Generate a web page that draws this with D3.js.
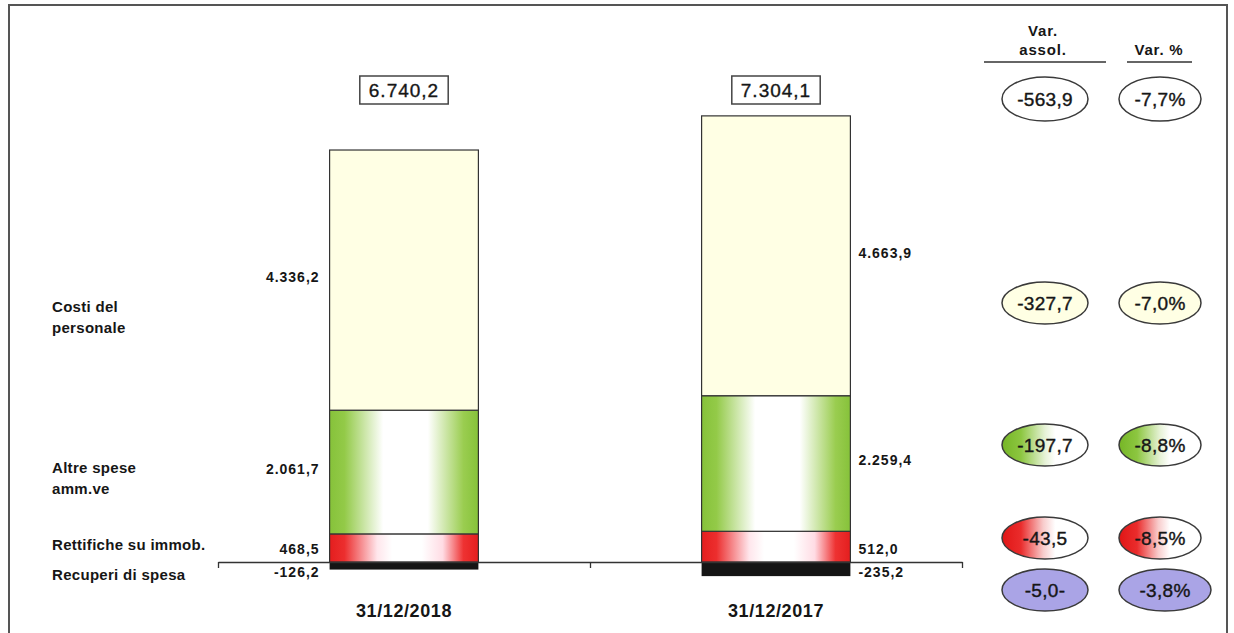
<!DOCTYPE html>
<html>
<head>
<meta charset="utf-8">
<script src="https://cdn.jsdelivr.net/npm/d3@7"></script>
<style>
body { margin: 0; background: #fff; }
svg text { font-family: "Liberation Sans", Arial, sans-serif; fill: #161616; }
</style>
</head>
<body>
<svg></svg>
<script>
// data
let years = ['31/12/2018', '31/12/2017']
let totals = [6740.2, 7304.1]
let costiPersonale = [4336.2, 4663.9]
let altreSpese = [2061.7, 2259.4]
let rettifiche = [468.5, 512.0]
let recuperi = [-126.2, -235.2]
let categoryLines = [['Costi del', 'personale'], ['Altre spese', 'amm.ve'], ['Rettifiche su immob.'], ['Recuperi di spesa']]
let varAssol = [-563.9, -327.7, -197.7, -43.5, -5.0]
let varAssolSuffix = ['', '', '', '', '-']
let varPerc = [-7.7, -7.0, -8.8, -8.5, -3.8]

let width = 1234
let height = 633
let zeroY = 562

let svg = d3.select('svg')
let xScale, yScale, axisScale

let itLocale = d3.formatLocale({decimal: ',', thousands: '.', grouping: [3], currency: ['€', ''], minus: '-'})
let fmt = itLocale.format(',.1f')

let drawCanvas = () => {
    svg.attr('width', width)
    svg.attr('height', height)

    // outer frame
    svg.append('rect')
        .attr('x', 9).attr('y', 5)
        .attr('width', 1218).attr('height', 660)
        .attr('fill', 'none')
        .attr('stroke', '#555')
        .attr('stroke-width', 2)

    let defs = svg.append('defs')
    let addGradient = (id, stops) => {
        let g = defs.append('linearGradient').attr('id', id)
            .attr('x1', '0%').attr('x2', '100%').attr('y1', '0%').attr('y2', '0%')
        stops.forEach(s => g.append('stop').attr('offset', s[0]).attr('stop-color', s[1]))
    }
    addGradient('gGreen', [[0, '#86c23a'], [0.1, '#93ca48'], [0.36, '#ffffff'], [0.66, '#ffffff'], [0.9, '#9acd50'], [1, '#86c23a']])
    addGradient('gRed', [[0, '#e41e1e'], [0.1, '#ec2e2e'], [0.32, '#ffe6ec'], [0.42, '#ffffff'], [0.62, '#ffffff'], [0.76, '#ffdce4'], [0.9, '#ee3232'], [1, '#e41e1e']])
    addGradient('eGreen', [[0, '#76b626'], [0.22, '#8cc640'], [0.5, '#e6f2d6'], [0.62, '#ffffff'], [1, '#ffffff']])
    addGradient('eRed', [[0, '#e01616'], [0.22, '#ea2c2c'], [0.48, '#f8cccc'], [0.62, '#ffffff'], [1, '#ffffff']])
}

let generateScales = () => {
    xScale = d3.scaleBand()
        .domain(years)
        .range([218, 962])
        .paddingInner(0.6)
        .paddingOuter(0.3)

    yScale = d3.scaleLinear()
        .domain([0, 7000])
        .range([zeroY, zeroY - 420])

    axisScale = d3.scaleLinear()
        .domain([0, years.length])
        .range([218, 962])
}

let generateAxes = () => {
    let xAxis = d3.axisBottom(axisScale)
        .tickValues(d3.range(years.length + 1))
        .tickFormat('')
        .tickSize(6)
        .tickSizeOuter(0)

    let g = svg.append('g')
        .attr('id', 'x-axis')
        .attr('transform', `translate(0, ${zeroY})`)
        .call(xAxis)
    g.selectAll('path, line').attr('stroke', '#333').attr('stroke-width', 1.3)

    svg.selectAll('.year-label')
        .data(years)
        .enter()
        .append('text')
        .attr('class', 'year-label')
        .attr('x', d => xScale(d) + xScale.bandwidth() / 2)
        .attr('y', 617)
        .attr('text-anchor', 'middle')
        .attr('font-size', 18)
        .attr('font-weight', 'bold')
        .attr('letter-spacing', 0.6)
        .text(d => d)
}

let drawBars = () => {
    let table = years.map((year, i) => ({
        year: year,
        rett: rettifiche[i],
        altre: altreSpese[i],
        costi: costiPersonale[i],
        recup: recuperi[i]
    }))
    let fills = {rett: 'url(#gRed)', altre: 'url(#gGreen)', costi: '#ffffe4'}
    let stack = d3.stack().keys(['rett', 'altre', 'costi'])(table)

    stack.forEach(layer => {
        svg.append('g')
            .selectAll('rect')
            .data(layer)
            .enter()
            .append('rect')
            .attr('x', d => xScale(d.data.year))
            .attr('width', xScale.bandwidth())
            .attr('y', d => yScale(d[1]))
            .attr('height', d => yScale(d[0]) - yScale(d[1]))
            .attr('fill', fills[layer.key])
            .attr('stroke', '#333')
            .attr('stroke-width', 1.2)
    })

    // negative part
    svg.append('g')
        .selectAll('rect')
        .data(table)
        .enter()
        .append('rect')
        .attr('x', d => xScale(d.year))
        .attr('width', xScale.bandwidth())
        .attr('y', yScale(0))
        .attr('height', d => yScale(d.recup) - yScale(0))
        .attr('fill', '#151515')

    // value labels beside bars
    let labelX = (i) => i === 0 ? xScale(years[i]) - 10 : xScale(years[i]) + xScale.bandwidth() + 8
    let anchor = (i) => i === 0 ? 'end' : 'start'
    let labels = []
    stack.forEach(layer => {
        layer.forEach((d, i) => {
            let y = layer.key === 'rett' ? yScale(0) - 8 : (yScale(d[0]) + yScale(d[1])) / 2 + 2
            labels.push({x: labelX(i), y: y, anchor: anchor(i), text: fmt(d.data[layer.key])})
        })
    })
    table.forEach((d, i) => {
        labels.push({x: labelX(i), y: yScale(0) + 15, anchor: anchor(i), text: fmt(d.recup)})
    })
    svg.selectAll('.val-label')
        .data(labels)
        .enter()
        .append('text')
        .attr('class', 'val-label')
        .attr('x', d => d.x)
        .attr('y', d => d.y)
        .attr('text-anchor', d => d.anchor)
        .attr('font-size', 14)
        .attr('font-weight', 'bold')
        .attr('letter-spacing', 1)
        .text(d => d.text)

    // totals in boxes
    totals.forEach((t, i) => {
        let cx = xScale(years[i]) + xScale.bandwidth() / 2
        let txt = svg.append('text')
            .attr('x', cx)
            .attr('y', 97)
            .attr('text-anchor', 'middle')
            .attr('font-size', 19)
            .attr('letter-spacing', 1)
            .attr('stroke', '#161616')
            .attr('stroke-width', 0.35)
            .text(fmt(t))
        let bb = txt.node().getBBox()
        svg.insert('rect', 'text')
            .attr('x', bb.x - 9)
            .attr('y', 76)
            .attr('width', bb.width + 18)
            .attr('height', 28)
            .attr('fill', '#fff')
            .attr('stroke', '#444')
            .attr('stroke-width', 1.5)
    })
}

let drawCategories = () => {
    let baselines = [312, 473, 550, 580]
    categoryLines.forEach((lines, i) => {
        let t = svg.append('text')
            .attr('x', 52)
            .attr('y', baselines[i])
            .attr('font-size', 15)
            .attr('font-weight', 'bold')
            .attr('letter-spacing', 0.3)
        lines.forEach((line, j) => {
            t.append('tspan')
                .attr('x', 52)
                .attr('dy', j === 0 ? 0 : 21)
                .text(line)
        })
    })
}

let drawVariations = () => {
    // headers
    let header = (x, y, s) => svg.append('text').attr('x', x).attr('y', y).attr('text-anchor', 'middle')
        .attr('font-size', 15).attr('font-weight', 'bold').attr('letter-spacing', 0.8).text(s)
    header(1043, 36, 'Var.')
    header(1043, 55, 'assol.')
    header(1159, 55, 'Var. %')
    svg.append('line').attr('x1', 984).attr('x2', 1106).attr('y1', 62).attr('y2', 62)
        .attr('stroke', '#333').attr('stroke-width', 1.5)
    svg.append('line').attr('x1', 1127).attr('x2', 1192).attr('y1', 62).attr('y2', 62)
        .attr('stroke', '#333').attr('stroke-width', 1.5)

    let rowY = [99, 303, 445, 538, 590]
    let rowFill = ['#ffffff', '#ffffe4', 'url(#eGreen)', 'url(#eRed)', '#aaa4e6']
    let cols = [
        {cx: 1045, rx: 43, values: varAssol, text: (v, i) => fmt(v) + varAssolSuffix[i]},
        {cx: 1160, rx: 41, values: varPerc, text: (v) => fmt(v) + '%'}
    ]
    cols.forEach((col, c) => {
        let g = svg.append('g')
        let rows = g.selectAll('g')
            .data(col.values)
            .enter()
            .append('g')
            .attr('transform', (d, i) => `translate(${c === 1 && i === 4 ? col.cx + 5 : col.cx}, ${rowY[i]})`)
        rows.append('ellipse')
            .attr('rx', (d, i) => c === 1 && i === 4 ? col.rx + 5 : col.rx)
            .attr('ry', (d, i) => i === 0 ? 22 : 21)
            .attr('fill', (d, i) => rowFill[i])
            .attr('stroke', '#3a3a3a')
            .attr('stroke-width', 1.5)
        rows.append('text')
            .attr('text-anchor', 'middle')
            .attr('dy', '0.36em')
            .attr('font-size', 19)
            .attr('letter-spacing', 0.3)
            .attr('stroke', '#161616')
            .attr('stroke-width', 0.4)
            .text((d, i) => col.text(d, i))
    })
}

drawCanvas()
generateScales()
drawBars()
generateAxes()
drawCategories()
drawVariations()
</script>
</body>
</html>
